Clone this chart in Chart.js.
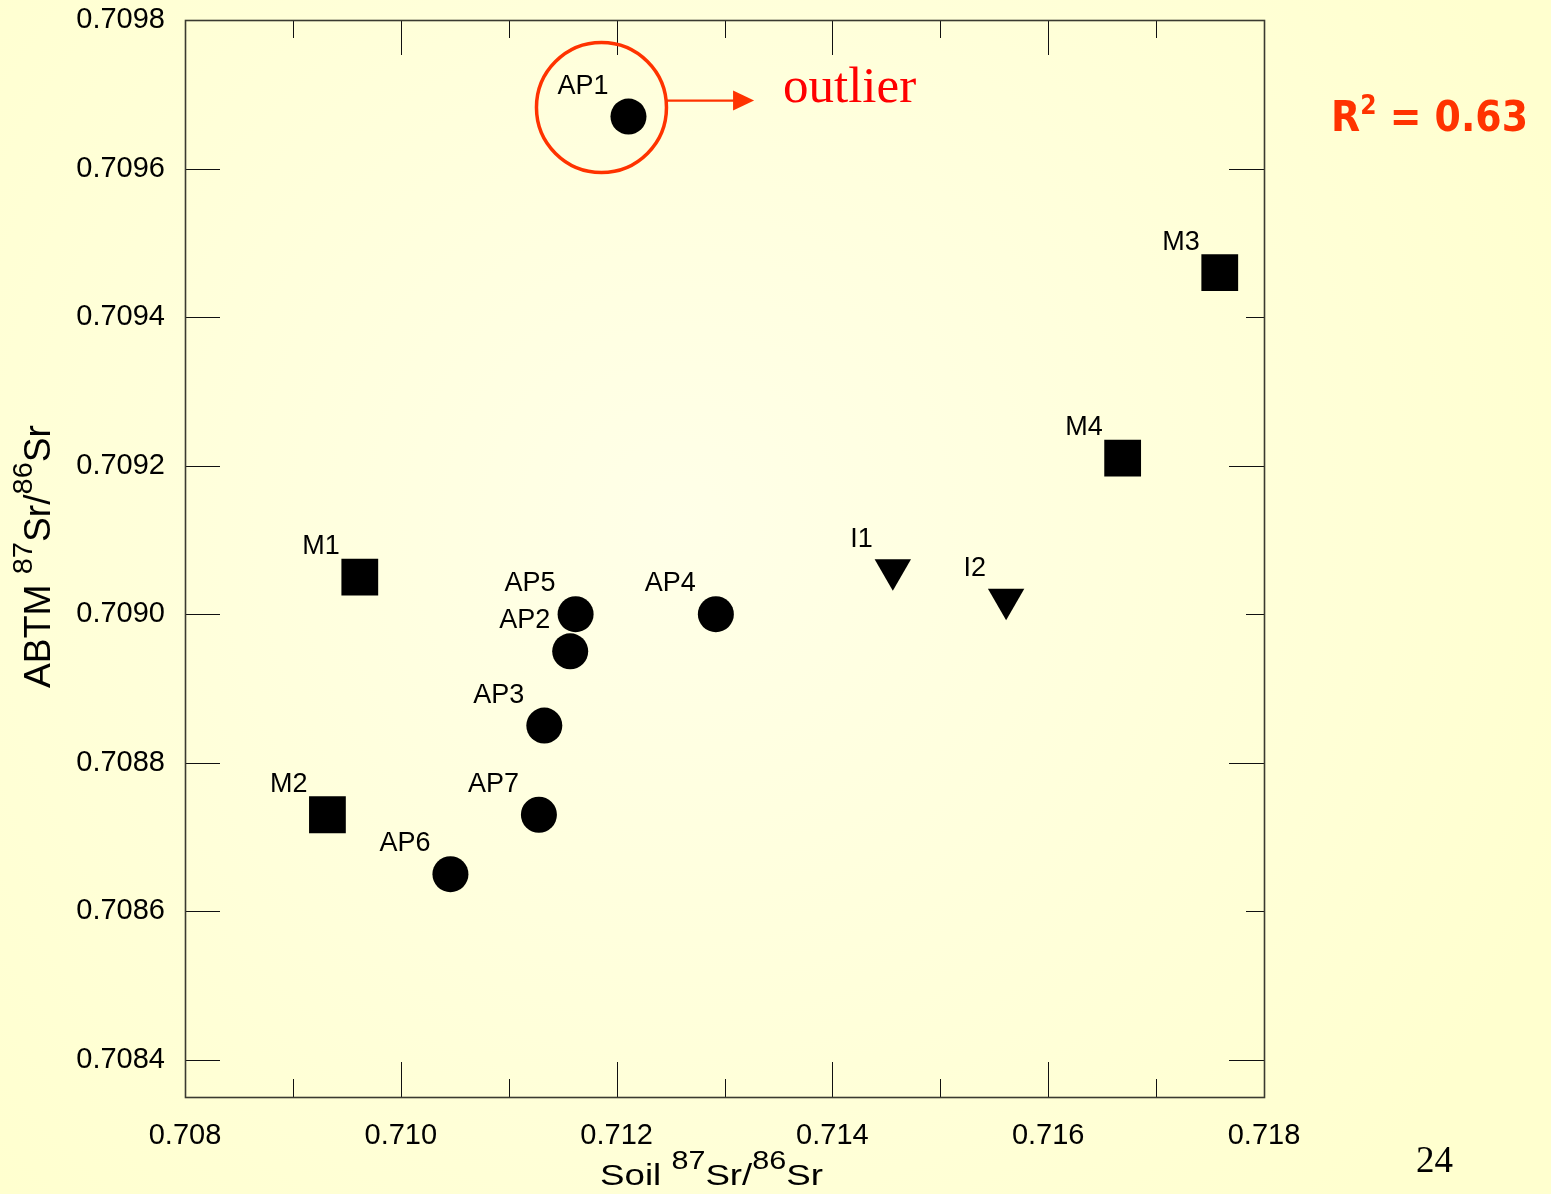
<!DOCTYPE html>
<html>
<head>
<meta charset="utf-8">
<script src="https://cdn.jsdelivr.net/npm/chart.js@4.4.0/dist/chart.umd.min.js"></script>
<style>
  html, body { margin: 0; padding: 0; overflow: hidden; background: #FFFFD2; }
  #wrap { position: relative; width: 1551px; height: 1194px; }
  canvas { display: block; }
</style>
</head>
<body>
<div id="wrap"><canvas id="c" width="1551" height="1194"></canvas></div>
<script>
// ---- Sample data: soil vs ABTM 87Sr/86Sr ----
const apNames = ['AP1', 'AP2', 'AP3', 'AP4', 'AP5', 'AP6', 'AP7'];
const apSoil  = [0.71211, 0.71157, 0.71133, 0.71292, 0.71162, 0.71046, 0.71128];
const apAbtm  = [0.70967, 0.70895, 0.70885, 0.70900, 0.70900, 0.70865, 0.70873];

const mNames = ['M1', 'M2', 'M3', 'M4'];
const mSoil  = [0.70962, 0.70932, 0.71759, 0.71669];
const mAbtm  = [0.70905, 0.70873, 0.70946, 0.70921];

const iNames = ['I1', 'I2'];
const iSoil  = [0.71456, 0.71561];
const iAbtm  = [0.70906, 0.70902];

// ---- Axis ticks ----
const xLabelTicks = [0.708, 0.710, 0.712, 0.714, 0.716, 0.718];
const xMinorTicks = [0.709, 0.711, 0.713, 0.715, 0.717];
const yLabelTicks = [0.7084, 0.7086, 0.7088, 0.7090, 0.7092, 0.7094, 0.7096, 0.7098];
const yRightLong  = [0.7084, 0.7088, 0.7092, 0.7096];
const yRightShort = [0.7086, 0.7090, 0.7094];

const xMin = 0.708, xMax = 0.718;
const yMin = 0.70835, yMax = 0.7098;

const rSquaredText = '0.63';
const pageNumber = '24';

const SANS = '"Liberation Sans", Arial, sans-serif';
const SERIF = '"Liberation Serif", "Times New Roman", serif';

function toPoints(xs, ys) { return xs.map((x, i) => ({ x: x, y: ys[i] })); }

// Page background: pale yellow, a little lighter toward the middle
const backgroundPlugin = {
  id: 'pageBackground',
  beforeDraw(chart) {
    const ctx = chart.ctx;
    ctx.save();
    const g = ctx.createRadialGradient(680, 520, 0, 680, 520, 950);
    g.addColorStop(0, '#FFFFE8');
    g.addColorStop(1, '#FFFFCF');
    ctx.fillStyle = g;
    ctx.fillRect(0, 0, chart.width, chart.height);
    ctx.restore();
  }
};

// Plot frame with inward tick marks on all four sides
const framePlugin = {
  id: 'frameTicks',
  afterDraw(chart) {
    const ctx = chart.ctx;
    const a = chart.chartArea;
    const xs = chart.scales.x, ys = chart.scales.y;
    ctx.save();
    ctx.strokeStyle = '#111';
    ctx.lineWidth = 1;
    const line = (x1, y1, x2, y2) => { ctx.beginPath(); ctx.moveTo(x1, y1); ctx.lineTo(x2, y2); ctx.stroke(); };
    const LONG = 35, SHORT = 18;
    xLabelTicks.forEach(v => {
      const px = Math.round(xs.getPixelForValue(v)) + 0.5;
      line(px, a.bottom, px, a.bottom - LONG);
      line(px, a.top, px, a.top + LONG);
    });
    xMinorTicks.forEach(v => {
      const px = Math.round(xs.getPixelForValue(v)) + 0.5;
      line(px, a.bottom, px, a.bottom - SHORT);
      line(px, a.top, px, a.top + SHORT);
    });
    yLabelTicks.forEach(v => {
      const py = Math.round(ys.getPixelForValue(v)) + 0.5;
      line(a.left, py, a.left + LONG, py);
    });
    yRightLong.forEach(v => {
      const py = Math.round(ys.getPixelForValue(v)) + 0.5;
      line(a.right, py, a.right - LONG, py);
    });
    yRightShort.forEach(v => {
      const py = Math.round(ys.getPixelForValue(v)) + 0.5;
      line(a.right, py, a.right - SHORT, py);
    });
    ctx.strokeStyle = '#3a3a30';
    ctx.lineWidth = 1.6;
    ctx.strokeRect(Math.round(a.left) + 0.5, Math.round(a.top) + 0.5,
                   Math.round(a.right - a.left), Math.round(a.bottom - a.top));
    ctx.restore();
  }
};

// Sample names written above-left of each marker
const pointNamePlugin = {
  id: 'pointNames',
  afterDatasetsDraw(chart) {
    const ctx = chart.ctx;
    ctx.save();
    ctx.font = '27px ' + SANS;
    ctx.fillStyle = '#000';
    ctx.textAlign = 'right';
    ctx.textBaseline = 'alphabetic';
    chart.data.datasets.forEach((ds, di) => {
      const meta = chart.getDatasetMeta(di);
      meta.data.forEach((el, i) => {
        ctx.fillText(ds.names[i], el.x - 20, el.y - 23);
      });
    });
    ctx.restore();
  }
};

// Draws a run of text pieces (normal + superscript), stretched to a given length
function drawRichText(ctx, pieces, targetLen) {
  let natural = 0;
  pieces.forEach(p => { ctx.font = p.size + 'px ' + SANS; p.w = ctx.measureText(p.text).width; natural += p.w; });
  const sx = targetLen / natural;
  ctx.scale(sx, 1);
  let x = 0;
  pieces.forEach(p => {
    ctx.font = p.size + 'px ' + SANS;
    ctx.fillText(p.text, x, -p.rise);
    x += p.w;
  });
}

const titlesPlugin = {
  id: 'axisTitles',
  afterDraw(chart) {
    const ctx = chart.ctx;
    ctx.save();
    ctx.fillStyle = '#000';
    ctx.textAlign = 'left';
    ctx.textBaseline = 'alphabetic';
    // x title
    ctx.save();
    ctx.translate(600, 1185);
    drawRichText(ctx, [
      { text: 'Soil ', size: 30, rise: 0 },
      { text: '87', size: 25, rise: 16 },
      { text: 'Sr/', size: 30, rise: 0 },
      { text: '86', size: 25, rise: 16 },
      { text: 'Sr', size: 30, rise: 0 }
    ], 223);
    ctx.restore();
    // y title
    ctx.save();
    ctx.translate(50, 688);
    ctx.rotate(-Math.PI / 2);
    drawRichText(ctx, [
      { text: 'ABTM ', size: 36, rise: 0 },
      { text: '87', size: 28, rise: 18 },
      { text: 'Sr/', size: 36, rise: 0 },
      { text: '86', size: 28, rise: 18 },
      { text: 'Sr', size: 36, rise: 0 }
    ], 263);
    ctx.restore();
    ctx.restore();
  }
};

// Outlier call-out, R² note and slide number
const notesPlugin = {
  id: 'notes',
  afterDraw(chart) {
    const ctx = chart.ctx;
    const ap1 = chart.getDatasetMeta(0).data[0];
    const cx = ap1.x - 27, cy = ap1.y - 9, r = 65;
    ctx.save();
    ctx.strokeStyle = '#FF3300';
    ctx.fillStyle = '#FF3300';
    ctx.lineWidth = 3.5;
    ctx.beginPath();
    ctx.arc(cx, cy, r, 0, Math.PI * 2);
    ctx.stroke();
    const ay = cy - 7;
    const ax0 = cx + Math.sqrt(r * r - 49);
    const ax1 = ax0 + 88;
    ctx.lineWidth = 2.2;
    ctx.beginPath();
    ctx.moveTo(ax0, ay);
    ctx.lineTo(ax1 - 18, ay);
    ctx.stroke();
    ctx.beginPath();
    ctx.moveTo(ax1, ay);
    ctx.lineTo(ax1 - 21, ay - 10);
    ctx.lineTo(ax1 - 21, ay + 10);
    ctx.closePath();
    ctx.fill();

    ctx.fillStyle = '#FF0000';
    ctx.font = '51px ' + SERIF;
    ctx.textAlign = 'left';
    ctx.textBaseline = 'alphabetic';
    ctx.fillText('outlier', 783, 102);

    // R² = value
    ctx.fillStyle = '#FF3300';
    const bold = (s) => 'bold ' + s + 'px "DejaVu Sans", Verdana, sans-serif';
    const parts = [
      { t: 'R', size: 42, rise: 0 },
      { t: '2', size: 26, rise: 17 },
      { t: ' = ' + rSquaredText, size: 42, rise: 0 }
    ];
    let nat = 0;
    parts.forEach(p => { ctx.font = bold(p.size); p.w = ctx.measureText(p.t).width; nat += p.w; });
    ctx.save();
    ctx.translate(1331, 131);
    ctx.scale(197 / nat, 1);
    let x = 0;
    parts.forEach(p => { ctx.font = bold(p.size); ctx.fillText(p.t, x, -p.rise); x += p.w; });
    ctx.restore();

    ctx.fillStyle = '#000';
    ctx.font = '37px ' + SERIF;
    ctx.fillText(pageNumber, 1416, 1172);
    ctx.restore();
  }
};

const pointBase = { backgroundColor: '#000', borderColor: '#000', borderWidth: 0 };

new Chart(document.getElementById('c'), {
  type: 'scatter',
  data: {
    datasets: [
      Object.assign({ label: 'AP', names: apNames, data: toPoints(apSoil, apAbtm),
        pointStyle: 'circle', pointRadius: 18 }, pointBase),
      Object.assign({ label: 'M', names: mNames, data: toPoints(mSoil, mAbtm),
        pointStyle: 'rect', pointRadius: 26 }, pointBase),
      Object.assign({ label: 'I', names: iNames, data: toPoints(iSoil, iAbtm),
        pointStyle: 'triangle', pointRadius: 21, pointRotation: 180 }, pointBase)
    ]
  },
  options: {
    responsive: false,
    animation: false,
    events: [],
    layout: { autoPadding: false, padding: { top: 20, right: 287, bottom: 0, left: 0 } },
    plugins: { legend: { display: false }, tooltip: { enabled: false }, title: { display: false } },
    scales: {
      x: {
        type: 'linear', min: xMin, max: xMax,
        grid: { display: false, drawTicks: false },
        border: { display: false },
        afterBuildTicks(scale) { scale.ticks = xLabelTicks.map(v => ({ value: v })); },
        afterFit(scale) { scale.height = 97; scale.paddingLeft = 0; scale.paddingRight = 0; },
        ticks: {
          color: '#000', padding: 22, maxRotation: 0, autoSkip: false,
          font: { size: 29, family: SANS },
          callback: v => Number(v).toFixed(3)
        }
      },
      y: {
        type: 'linear', min: yMin, max: yMax,
        grid: { display: false, drawTicks: false },
        border: { display: false },
        afterBuildTicks(scale) { scale.ticks = yLabelTicks.map(v => ({ value: v })); },
        afterFit(scale) { scale.width = 185; scale.paddingTop = 0; scale.paddingBottom = 0; },
        ticks: {
          color: '#000', padding: 20, autoSkip: false,
          font: { size: 29, family: SANS },
          callback: v => Number(v).toFixed(4)
        }
      }
    }
  },
  plugins: [backgroundPlugin, framePlugin, pointNamePlugin, titlesPlugin, notesPlugin]
});
</script>
</body>
</html>
